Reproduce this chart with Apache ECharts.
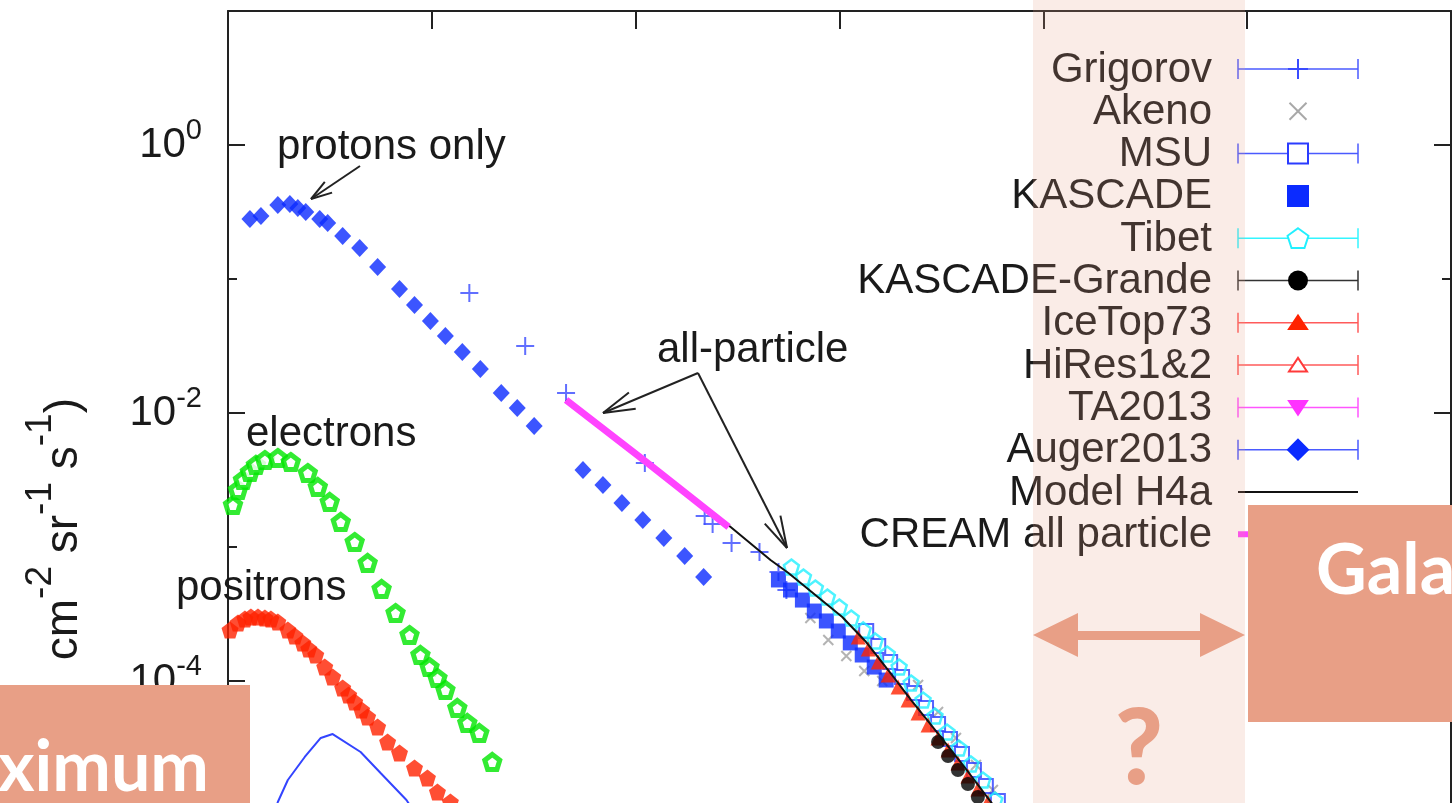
<!DOCTYPE html>
<html>
<head>
<meta charset="utf-8">
<script src="https://cdn.jsdelivr.net/npm/echarts@6/dist/echarts.min.js"></script>
<style>
html, body { margin: 0; padding: 0; background: #fff; }
#chart { width: 1452px; height: 803px; }
</style>
</head>
<body>
<div id="chart"></div>
<script>
// values as [log10 E, log10 flux]
var protons = [[0.215,-0.552],[0.323,-0.530],[0.489,-0.448],[0.607,-0.440],[0.685,-0.470],[0.763,-0.500],[0.900,-0.552],[0.978,-0.582],[1.125,-0.679],[1.292,-0.769],[1.468,-0.910],[1.683,-1.075],[1.830,-1.194],[1.986,-1.313],[2.133,-1.425],[2.299,-1.545],[2.476,-1.672],[2.681,-1.851],[2.838,-1.963],[3.004,-2.097],[3.483,-2.425],[3.679,-2.537],[3.865,-2.672],[4.070,-2.799],[4.276,-2.933],[4.481,-3.067],[4.667,-3.224]];
var electrons = [[0.049,-2.687],[0.098,-2.575],[0.147,-2.500],[0.215,-2.440],[0.274,-2.388],[0.362,-2.351],[0.489,-2.336],[0.616,-2.366],[0.783,-2.448],[0.881,-2.552],[0.998,-2.664],[1.106,-2.813],[1.243,-2.963],[1.370,-3.119],[1.507,-3.313],[1.644,-3.493],[1.781,-3.657],[1.888,-3.806],[1.977,-3.896],[2.055,-3.978],[2.133,-4.067],[2.250,-4.201],[2.348,-4.313],[2.466,-4.388],[2.593,-4.604]];
var positrons = [[0.020,-3.619],[0.098,-3.567],[0.166,-3.537],[0.225,-3.522],[0.294,-3.522],[0.362,-3.530],[0.421,-3.537],[0.489,-3.560],[0.587,-3.619],[0.656,-3.664],[0.734,-3.716],[0.793,-3.761],[0.861,-3.806],[0.949,-3.896],[1.027,-3.970],[1.125,-4.052],[1.184,-4.104],[1.243,-4.157],[1.311,-4.216],[1.370,-4.269],[1.468,-4.343],[1.566,-4.455],[1.683,-4.537],[1.830,-4.649],[1.957,-4.724],[2.055,-4.828],[2.182,-4.903],[2.300,-4.990]];
var antiprotons = [[0.430,-5.040],[0.489,-4.903],[0.587,-4.739],[0.753,-4.567],[0.910,-4.425],[1.027,-4.396],[1.301,-4.530],[1.497,-4.687],[1.751,-4.888],[1.880,-5.040]];
var grigorov = [[2.368,-1.104],[2.916,-1.500],[3.317,-1.851],[4.090,-2.373],[4.677,-2.769],[4.755,-2.828],[4.941,-2.970],[5.215,-3.037],[5.401,-3.187],[5.479,-3.321]];
var akeno = [[5.714,-3.530],[5.890,-3.694],[6.067,-3.813],[6.243,-3.925],[6.419,-4.000],[6.771,-4.030],[6.967,-4.231],[7.143,-4.425],[7.339,-4.627],[7.505,-4.813]];
var msu = [[6.262,-3.627],[6.380,-3.739],[6.497,-3.858],[6.614,-3.970],[6.732,-4.090],[6.849,-4.201],[6.967,-4.321],[7.084,-4.433],[7.202,-4.545],[7.319,-4.664],[7.436,-4.784],[7.554,-4.896]];
var kascade = [[5.401,-3.246],[5.519,-3.321],[5.636,-3.396],[5.753,-3.478],[5.871,-3.552],[5.988,-3.627],[6.106,-3.716],[6.223,-3.806],[6.341,-3.896],[6.458,-3.993]];
var tibet = [[5.528,-3.149],[5.646,-3.224],[5.763,-3.306],[5.881,-3.373],[5.998,-3.448],[6.115,-3.530],[6.233,-3.619],[6.350,-3.701],[6.468,-3.799],[6.585,-3.896],[6.703,-4.015],[6.820,-4.142],[6.937,-4.261],[7.055,-4.381],[7.172,-4.500],[7.290,-4.619],[7.407,-4.739],[7.524,-4.888]];
var kascadeGrande = [[6.967,-4.455],[7.065,-4.560],[7.162,-4.664],[7.260,-4.769],[7.358,-4.866],[7.456,-4.963]];
var iceTop = [[6.184,-3.672],[6.282,-3.761],[6.380,-3.858],[6.477,-3.955],[6.575,-4.045],[6.673,-4.142],[6.771,-4.239],[6.869,-4.328],[6.967,-4.425],[7.065,-4.515],[7.162,-4.612],[7.260,-4.709],[7.358,-4.806],[7.456,-4.903],[7.554,-5.000]];
var modelH4a = [[3.317,-1.903],[4.129,-2.366],[4.932,-2.851],[5.323,-3.097],[5.499,-3.194],[6.027,-3.522],[6.252,-3.701],[6.477,-3.918],[6.703,-4.142],[6.898,-4.328],[7.211,-4.627],[7.515,-4.933],[7.652,-5.075]];
var cream = [[3.317,-1.903],[4.129,-2.380],[4.912,-2.851]];

var legendNames = ['Grigorov', 'Akeno', 'MSU', 'KASCADE', 'Tibet', 'KASCADE-Grande', 'IceTop73', 'HiRes1&2', 'TA2013', 'Auger2013', 'Model H4a', 'CREAM all particle'];

var FONT = '"Liberation Sans", Arial, Helvetica, sans-serif';
var SALMON = '#e89f86';
var PENT = 'path://M10,0L19.51,6.91L15.88,18.09L4.12,18.09L0.49,6.91Z';
var PLUS = 'path://M0,6L12,6M6,0L6,12';
var CROSS = 'path://M0,0L10,10M0,10L10,0';

function toPts(arr) {
    return arr.map(function (p) { return [Math.pow(10, p[0]), Math.pow(10, p[1])]; });
}

function supLabel(v) {
    var e = Math.round(Math.log(v) / Math.LN10);
    return '{m|10}{s|' + e + '}';
}
var labelRich = {
    m: { fontSize: 42, lineHeight: 58, fontFamily: FONT, color: '#1a1a1a' },
    s: { fontSize: 29, lineHeight: 29, fontFamily: FONT, color: '#1a1a1a', verticalAlign: 'top' }
};

var axisLine = { show: true, onZero: false, lineStyle: { color: '#222', width: 2 } };

function yAxisDef(pos, interval, tickLen, labels) {
    return {
        type: 'log', logBase: 10, min: 1e-6, max: 10, interval: interval,
        position: pos,
        axisLine: interval === 2 ? axisLine : { show: false },
        axisTick: { show: true, inside: true, length: tickLen, lineStyle: { color: '#222', width: 2 } },
        axisLabel: { show: labels, margin: 26, showMaxLabel: false, formatter: supLabel, rich: labelRich },
        splitLine: { show: false }
    };
}

// ---------- graphic helpers ----------
var g = [];
function ln(x1, y1, x2, y2, color, w, z) {
    return { type: 'line', z: z || 50, silent: true, shape: { x1: x1, y1: y1, x2: x2, y2: y2 }, style: { stroke: color, lineWidth: w || 1.5 } };
}
function txt(str, x, y, opts) {
    opts = opts || {};
    return {
        type: 'text', z: opts.z || 50, silent: true, x: x, y: y,
        style: {
            text: str, fill: opts.fill || '#1a1a1a',
            font: opts.font || ('42px ' + FONT),
            align: opts.align || 'left', verticalAlign: 'middle'
        }
    };
}
function arrow(x1, y1, x2, y2, len, ang) {
    var a = Math.atan2(y1 - y2, x1 - x2);
    g.push(ln(x1, y1, x2, y2, '#222', 2));
    g.push(ln(x2, y2, x2 + len * Math.cos(a + ang), y2 + len * Math.sin(a + ang), '#222', 2));
    g.push(ln(x2, y2, x2 + len * Math.cos(a - ang), y2 + len * Math.sin(a - ang), '#222', 2));
}
function marker(kind, cx, cy, s, c) {
    var h = s / 2, z = 52;
    if (kind === 'plus') {
        g.push(ln(cx - h, cy, cx + h, cy, c, 2, z), ln(cx, cy - h, cx, cy + h, c, 2, z));
    } else if (kind === 'cross') {
        g.push(ln(cx - h, cy - h, cx + h, cy + h, c, 2, z), ln(cx - h, cy + h, cx + h, cy - h, c, 2, z));
    } else if (kind === 'square' || kind === 'squareOpen') {
        g.push({ type: 'rect', z: z, shape: { x: cx - h, y: cy - h, width: s, height: s },
            style: { fill: kind === 'square' ? c : '#fff', stroke: c, lineWidth: 2 } });
    } else if (kind === 'circle') {
        g.push({ type: 'circle', z: z, shape: { cx: cx, cy: cy, r: h }, style: { fill: c } });
    } else {
        var pts;
        if (kind === 'pentOpen') {
            pts = [];
            for (var i = 0; i < 5; i++) {
                var t = -Math.PI / 2 + i * 2 * Math.PI / 5;
                pts.push([cx + h * Math.cos(t), cy + h * Math.sin(t) + 1]);
            }
        } else if (kind === 'tri' || kind === 'triOpen') {
            pts = [[cx, cy - h * 0.8], [cx + h, cy + h * 0.7], [cx - h, cy + h * 0.7]];
        } else if (kind === 'triDown') {
            pts = [[cx - h, cy - h * 0.7], [cx + h, cy - h * 0.7], [cx, cy + h * 0.8]];
        } else {
            pts = [[cx, cy - h], [cx + h, cy], [cx, cy + h], [cx - h, cy]];
        }
        var open = kind === 'pentOpen' || kind === 'triOpen';
        g.push({ type: 'polygon', z: z, shape: { points: pts },
            style: { fill: open ? '#fff' : c, stroke: c, lineWidth: 2 } });
    }
}

// ---------- legend (drawn by hand, error-bar style) ----------
var legendLook = [
    { bar: '#4a5aff', mark: 'plus', c: '#3a4bff', s: 20 },
    { mark: 'cross', c: '#a8a8a8', s: 17 },
    { bar: '#4a5aff', mark: 'squareOpen', c: '#2b3cff', s: 20 },
    { mark: 'square', c: '#0b2bff', s: 20 },
    { bar: '#33f5ff', mark: 'pentOpen', c: '#22f0ff', s: 22 },
    { bar: '#333', mark: 'circle', c: '#000', s: 20 },
    { bar: '#ff5a5a', mark: 'tri', c: '#ff2200', s: 18 },
    { bar: '#ff5a5a', mark: 'triOpen', c: '#ff3a3a', s: 18 },
    { bar: '#ff55ff', mark: 'triDown', c: '#ff33ff', s: 18 },
    { bar: '#4a5aff', mark: 'diamond', c: '#0b2bff', s: 20 },
    { line: '#111', w: 2 },
    { line: '#ff44ff', w: 6 }
];
legendNames.forEach(function (name, i) {
    var y = 69 + 42.3 * i, L = legendLook[i];
    g.push(txt(name, 1212, y + 1, { align: 'right' }));
    if (L.line) {
        g.push(ln(1238, y, 1358, y, L.line, L.w));
        return;
    }
    if (L.bar) {
        g.push(ln(1238, y, 1358, y, L.bar, 1.5), ln(1238, y - 10, 1238, y + 10, L.bar, 1.5), ln(1358, y - 10, 1358, y + 10, L.bar, 1.5));
    }
    marker(L.mark, 1298, y, L.s, L.c);
});

// ---------- annotations ----------
g.push(txt('protons only', 277, 147));
arrow(360, 166, 311, 199, 22, 0.3);
g.push(txt('electrons', 246, 434));
g.push(txt('positrons', 176, 588));
g.push(txt('all-particle', 657, 350));
arrow(698, 373, 603, 413, 33, 0.27);
arrow(698, 373, 787, 548, 33, 0.27);

// y-axis title, rotated
g.push({
    type: 'text', z: 50, silent: true, x: 64, y: 398, rotation: Math.PI / 2,
    style: {
        text: '{a|E dN/dE (  cm}{s|-2}{a| sr}{s|-1}{a| s}{s|-1}{a|)}',
        align: 'right', verticalAlign: 'middle',
        rich: {
            a: { fontSize: 46, lineHeight: 84, fontFamily: FONT, fill: '#1a1a1a' },
            s: { fontSize: 37, lineHeight: 37, fontFamily: FONT, fill: '#1a1a1a', verticalAlign: 'top' }
        }
    }
});

// overlays
g.push({ type: 'rect', z: 60, silent: true, shape: { x: 1033, y: 0, width: 212, height: 803 }, style: { fill: 'rgba(232,159,134,0.2)' } });
g.push({ type: 'polygon', z: 61, silent: true, shape: { points: [[1033,635],[1078,613],[1078,631],[1200,631],[1200,613],[1245,635],[1200,657],[1200,640],[1078,640],[1078,657]] }, style: { fill: SALMON } });
g.push(txt('?', 1139, 750, { fill: SALMON, align: 'center', font: '900 104px Lato, "Open Sans", sans-serif', z: 61 }));
g.push({ type: 'rect', z: 70, silent: true, shape: { x: 1248, y: 505, width: 220, height: 217 }, style: { fill: SALMON } });
g.push(txt('Galactic', 1316, 571, { fill: '#fff', font: 'bold 70px Lato, "Open Sans", sans-serif', z: 71 }));
g.push({ type: 'rect', z: 70, silent: true, shape: { x: 0, y: 685, width: 250, height: 130 }, style: { fill: SALMON } });
g.push(txt('Maximum', 209, 768, { fill: '#fff', align: 'right', font: 'bold 70px Lato, "Open Sans", sans-serif', z: 71 }));

var chart = echarts.init(document.getElementById('chart'));
chart.setOption({
    animation: false,
    backgroundColor: '#fff',
    grid: { left: 228, top: 11, width: 1223, height: 938, containLabel: false, outerBoundsMode: 'none' },
    xAxis: [
        {
            type: 'log', logBase: 10, min: 1, max: 1e12, interval: 2, position: 'bottom',
            axisLine: axisLine,
            axisTick: { inside: true, length: 18, lineStyle: { color: '#222', width: 2 } },
            axisLabel: { formatter: supLabel, rich: labelRich },
            splitLine: { show: false }
        },
        {
            type: 'log', logBase: 10, min: 1, max: 1e12, interval: 2, position: 'top',
            axisLine: axisLine,
            axisTick: { inside: true, length: 18, lineStyle: { color: '#222', width: 2 } },
            axisLabel: { show: false },
            splitLine: { show: false }
        }
    ],
    yAxis: [
        yAxisDef('left', 2, 17, true),
        yAxisDef('left', 1, 9, false),
        yAxisDef('right', 2, 17, false),
        yAxisDef('right', 1, 9, false)
    ],
    series: [
        { name: 'protons', type: 'scatter', silent: true, data: toPts(protons), symbol: 'diamond', symbolSize: [17, 18], itemStyle: { color: '#0b2bff' } },
        { name: 'electrons', type: 'scatter', silent: true, data: toPts(electrons), symbol: PENT, symbolSize: 15, itemStyle: { color: '#fff', borderColor: '#00e600', borderWidth: 5 } },
        { name: 'positrons', type: 'scatter', silent: true, data: toPts(positrons), symbol: PENT, symbolSize: 17, itemStyle: { color: '#ff2200' } },
        { name: 'antiprotons', type: 'line', silent: true, data: toPts(antiprotons), showSymbol: false, lineStyle: { color: '#3344ff', width: 2 } },
        { name: 'Grigorov', type: 'scatter', silent: true, data: toPts(grigorov), symbol: PLUS, symbolSize: 18, itemStyle: { color: 'rgba(0,0,0,0)', borderColor: '#3a4bff', borderWidth: 2 } },
        { name: 'Akeno', type: 'scatter', silent: true, data: toPts(akeno), symbol: CROSS, symbolSize: 10, itemStyle: { color: 'rgba(0,0,0,0)', borderColor: '#a0a0a0', borderWidth: 2 } },
        { name: 'KASCADE', type: 'scatter', silent: true, data: toPts(kascade), symbol: 'rect', symbolSize: 15, itemStyle: { color: '#0b2bff' } },
        { name: 'MSU', type: 'scatter', silent: true, data: toPts(msu), symbol: 'rect', symbolSize: 14, itemStyle: { color: 'rgba(0,0,0,0)', borderColor: '#2b3cff', borderWidth: 2 } },
        { name: 'Tibet', type: 'scatter', silent: true, data: toPts(tibet), symbol: PENT, symbolSize: 15, itemStyle: { color: 'rgba(0,0,0,0)', borderColor: '#22f0ff', borderWidth: 2.5 } },
        { name: 'IceTop73', type: 'scatter', silent: true, data: toPts(iceTop), symbol: 'triangle', symbolSize: 15, itemStyle: { color: '#ff2200' } },
        { name: 'KASCADE-Grande', type: 'scatter', silent: true, data: toPts(kascadeGrande), symbol: 'circle', symbolSize: 14, itemStyle: { color: '#000' } },
        { name: 'Model H4a', type: 'line', silent: true, data: toPts(modelH4a), showSymbol: false, lineStyle: { color: '#111', width: 2 } },
        { name: 'CREAM all particle', type: 'line', silent: true, data: toPts(cream), showSymbol: false, lineStyle: { color: '#ff44ff', width: 7 } }
    ],
    graphic: g
});
window.addEventListener('resize', function () { chart.resize(); });
</script>
</body>
</html>
